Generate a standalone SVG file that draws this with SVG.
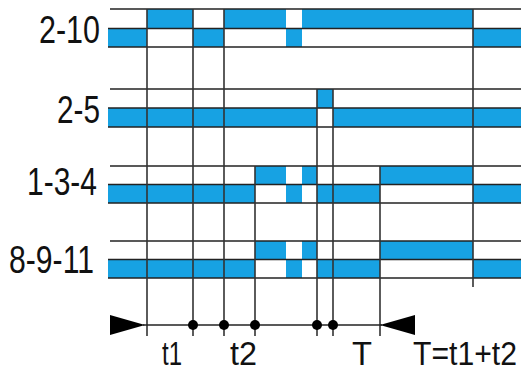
<svg xmlns="http://www.w3.org/2000/svg" width="526" height="377" viewBox="0 0 526 377">
<style>
.b{fill:#17a2e3}
.h{stroke:#222;stroke-width:1.4}
.v{stroke:#333;stroke-width:1.6}
.lbl{font-family:"Liberation Sans",Arial,sans-serif;font-size:39px;fill:#111}
.tl{font-family:"Liberation Sans",Arial,sans-serif;font-size:33px;fill:#111}
</style>
<rect width="526" height="377" fill="#fff"/>
<g id="row-2-10">
<rect class="b" x="147" y="9" width="46" height="19.5"/>
<rect class="b" x="224" y="9" width="62" height="19.5"/>
<rect class="b" x="302" y="9" width="171" height="19.5"/>
<rect class="b" x="108" y="28.5" width="39" height="18.5"/>
<rect class="b" x="193" y="28.5" width="31" height="18.5"/>
<rect class="b" x="286" y="28.5" width="16" height="18.5"/>
<rect class="b" x="473" y="28.5" width="48" height="18.5"/>
<line class="h" x1="110" y1="9" x2="521" y2="9"/>
<line class="h" x1="108" y1="28.5" x2="521" y2="28.5"/>
<line class="h" x1="108" y1="47" x2="521" y2="47"/>
<text class="lbl" x="39" y="43" textLength="61" lengthAdjust="spacingAndGlyphs">2-10</text>
</g>
<g id="row-2-5">
<rect class="b" x="317" y="89" width="16" height="19"/>
<rect class="b" x="108" y="108" width="209" height="19"/>
<rect class="b" x="333" y="108" width="188" height="19"/>
<line class="h" x1="110" y1="89" x2="521" y2="89"/>
<line class="h" x1="108" y1="108" x2="521" y2="108"/>
<line class="h" x1="108" y1="127" x2="521" y2="127"/>
<text class="lbl" x="57" y="123" textLength="43" lengthAdjust="spacingAndGlyphs">2-5</text>
</g>
<g id="row-1-3-4">
<rect class="b" x="255" y="166" width="31" height="18.5"/>
<rect class="b" x="302" y="166" width="15" height="18.5"/>
<rect class="b" x="380" y="166" width="93" height="18.5"/>
<rect class="b" x="108" y="184.5" width="147" height="18.5"/>
<rect class="b" x="286" y="184.5" width="16" height="18.5"/>
<rect class="b" x="317" y="184.5" width="63" height="18.5"/>
<rect class="b" x="473" y="184.5" width="48" height="18.5"/>
<line class="h" x1="110" y1="166" x2="521" y2="166"/>
<line class="h" x1="108" y1="184.5" x2="521" y2="184.5"/>
<line class="h" x1="108" y1="203" x2="521" y2="203"/>
<text class="lbl" x="27" y="195" textLength="70" lengthAdjust="spacingAndGlyphs">1-3-4</text>
</g>
<g id="row-8-9-11">
<rect class="b" x="255" y="241" width="31" height="18.5"/>
<rect class="b" x="302" y="241" width="15" height="18.5"/>
<rect class="b" x="380" y="241" width="93" height="18.5"/>
<rect class="b" x="108" y="259.5" width="147" height="18.5"/>
<rect class="b" x="286" y="259.5" width="16" height="18.5"/>
<rect class="b" x="317" y="259.5" width="63" height="18.5"/>
<rect class="b" x="473" y="259.5" width="48" height="18.5"/>
<line class="h" x1="110" y1="241" x2="521" y2="241"/>
<line class="h" x1="108" y1="259.5" x2="521" y2="259.5"/>
<line class="h" x1="108" y1="278" x2="521" y2="278"/>
<text class="lbl" x="9" y="273" textLength="85" lengthAdjust="spacingAndGlyphs">8-9-11</text>
</g>
<g id="connectors">
<line class="v" x1="147" y1="9" x2="147" y2="336"/>
<line class="v" x1="193" y1="9" x2="193" y2="336"/>
<line class="v" x1="224" y1="9" x2="224" y2="336"/>
<line class="v" x1="255" y1="166" x2="255" y2="336"/>
<line class="v" x1="317" y1="89" x2="317" y2="336"/>
<line class="v" x1="333" y1="89" x2="333" y2="336"/>
<line class="v" x1="380" y1="166" x2="380" y2="336"/>
<line class="v" x1="473" y1="9" x2="473" y2="287"/>
<line class="h" x1="143" y1="325" x2="382" y2="325"/>
<polygon points="110,315 145,325 110,335" fill="#000"/>
<polygon points="415,315 380,325 415,335" fill="#000"/>
<circle cx="193" cy="325" r="5" fill="#000"/>
<circle cx="224" cy="325" r="5" fill="#000"/>
<circle cx="255" cy="325" r="5" fill="#000"/>
<circle cx="317" cy="325" r="5" fill="#000"/>
<circle cx="333" cy="325" r="5" fill="#000"/>
</g>
<g id="time-labels">
<text class="tl" x="162" y="365" textLength="20" lengthAdjust="spacingAndGlyphs">t1</text>
<text class="tl" x="230" y="365" textLength="27" lengthAdjust="spacingAndGlyphs">t2</text>
<text class="tl" x="352" y="365" textLength="20" lengthAdjust="spacingAndGlyphs">T</text>
<text class="tl" x="413" y="365" textLength="104" lengthAdjust="spacingAndGlyphs">T=t1+t2</text>
</g>
</svg>
